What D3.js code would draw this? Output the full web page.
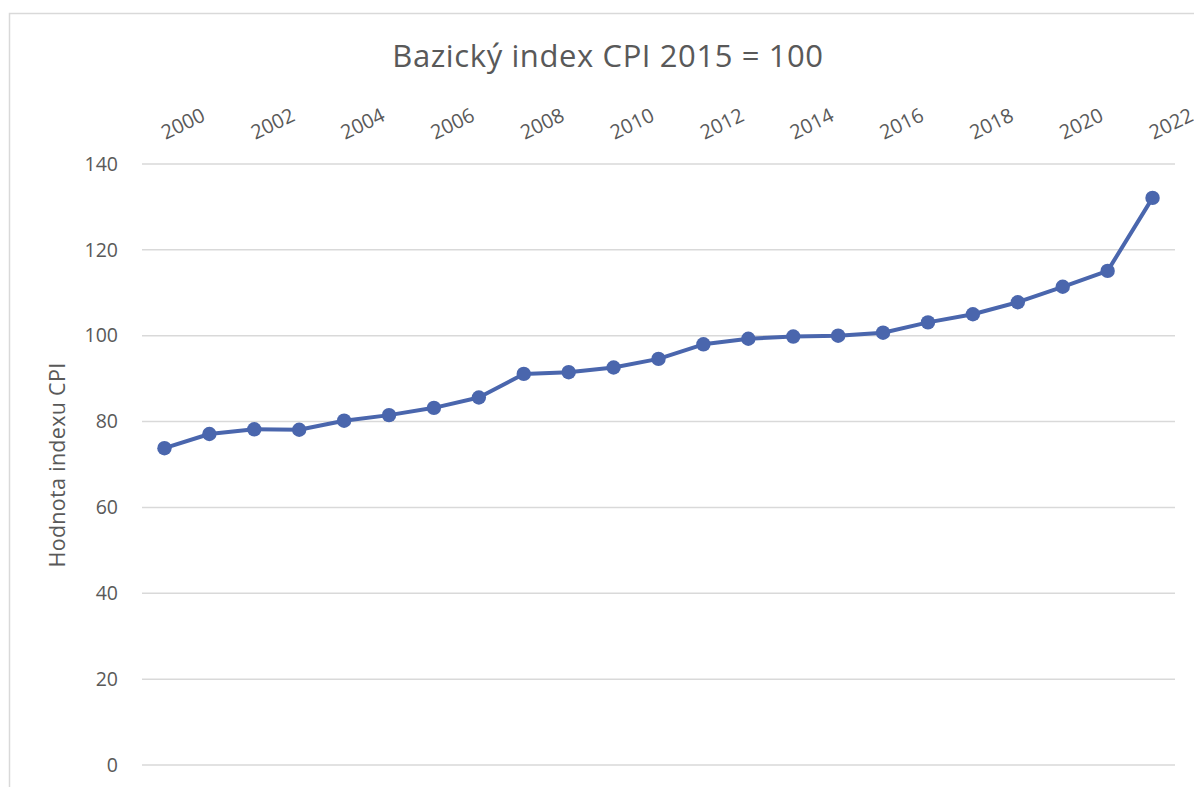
<!DOCTYPE html>
<html>
<head>
<meta charset="utf-8">
<script src="https://cdn.jsdelivr.net/npm/d3@7"></script>
<style>
  html, body { margin: 0; padding: 0; background: #ffffff; }
  svg { display: block; }
  text { font-family: "Open Sans", Lato, "Liberation Sans", sans-serif; fill: #595959; }
</style>
</head>
<body>
<svg id="chart" width="1194" height="787"></svg>
<script>
// Base CPI index (2015 = 100), yearly values
const years = [2000, 2001, 2002, 2003, 2004, 2005, 2006, 2007, 2008, 2009, 2010, 2011,
               2012, 2013, 2014, 2015, 2016, 2017, 2018, 2019, 2020, 2021, 2022];
const cpiValues = [73.8, 77.1, 78.2, 78.1, 80.2, 81.5, 83.2, 85.6, 91.1, 91.5, 92.6, 94.6,
                   98.0, 99.3, 99.8, 100.0, 100.7, 103.1, 105.0, 107.8, 111.4, 115.1, 132.1];
const yearTicks = [2000, 2002, 2004, 2006, 2008, 2010, 2012, 2014, 2016, 2018, 2020, 2022];
const valueTicks = [0, 20, 40, 60, 80, 100, 120, 140];

const chartTitle = "Bazický index CPI 2015 = 100";
const yAxisTitle = "Hodnota indexu CPI";

const svg = d3.select("#chart");
const lineColor = "#4a66ad";
const fontStack = "'Open Sans', Lato, sans-serif";

// Outer chart frame (partly cut by the page edges)
svg.append("path")
  .attr("d", "M9.5,787 V13.5 H1194")
  .attr("fill", "none")
  .attr("stroke", "#d9d9d9")
  .attr("stroke-width", 1.5);

const plot = { left: 142, right: 1175, top: 164, bottom: 765 };

const x = d3.scaleBand()
  .domain(years)
  .range([plot.left, plot.right])
  .padding(0);
const xc = d => x(d) + x.bandwidth() / 2;

const y = d3.scaleLinear()
  .domain([0, 140])
  .range([plot.bottom, plot.top]);

// Horizontal gridlines
svg.append("g")
  .selectAll("line")
  .data(valueTicks)
  .join("line")
  .attr("x1", plot.left)
  .attr("x2", plot.right)
  .attr("y1", d => y(d))
  .attr("y2", d => y(d))
  .attr("stroke", "#d9d9d9")
  .attr("stroke-width", 1.5);

// Value axis labels
const yAxis = d3.axisLeft(y).tickValues(valueTicks).tickSize(0).tickPadding(0);
const gy = svg.append("g")
  .attr("transform", `translate(118,0)`)
  .call(yAxis);
gy.select(".domain").remove();
gy.selectAll("text")
  .attr("font-size", 19.5)
  .attr("fill", "#595959")
  .style("font-family", fontStack);

// Year labels along the top, tilted
const xAxis = d3.axisTop(x).tickValues(yearTicks).tickSize(0).tickPadding(0);
const gx = svg.append("g")
  .call(xAxis);
gx.select(".domain").remove();
gx.selectAll(".tick").attr("transform", d => `translate(${xc(d) + 1},140)`);
gx.selectAll("text")
  .attr("x", 0)
  .attr("y", 0)
  .attr("dy", 0)
  .attr("text-anchor", "start")
  .attr("transform", "rotate(-26)")
  .attr("font-size", 20)
  .attr("fill", "#595959")
  .style("font-family", fontStack);

// Title
svg.append("text")
  .attr("x", 608)
  .attr("y", 67)
  .attr("text-anchor", "middle")
  .attr("font-size", 31)
  .attr("letter-spacing", 0.6)
  .text(chartTitle);

// Value axis title
svg.append("text")
  .attr("transform", `translate(65,465) rotate(-90)`)
  .attr("text-anchor", "middle")
  .attr("font-size", 21.5)
  .attr("letter-spacing", 0.3)
  .text(yAxisTitle);

// Series line and markers
const line = d3.line()
  .x((d, i) => xc(years[i]))
  .y(d => y(d));

svg.append("path")
  .datum(cpiValues)
  .attr("d", line)
  .attr("fill", "none")
  .attr("stroke", lineColor)
  .attr("stroke-width", 4)
  .attr("stroke-linejoin", "round");

svg.append("g")
  .selectAll("circle")
  .data(cpiValues)
  .join("circle")
  .attr("cx", (d, i) => xc(years[i]))
  .attr("cy", d => y(d))
  .attr("r", 7.2)
  .attr("fill", lineColor);
</script>
</body>
</html>
